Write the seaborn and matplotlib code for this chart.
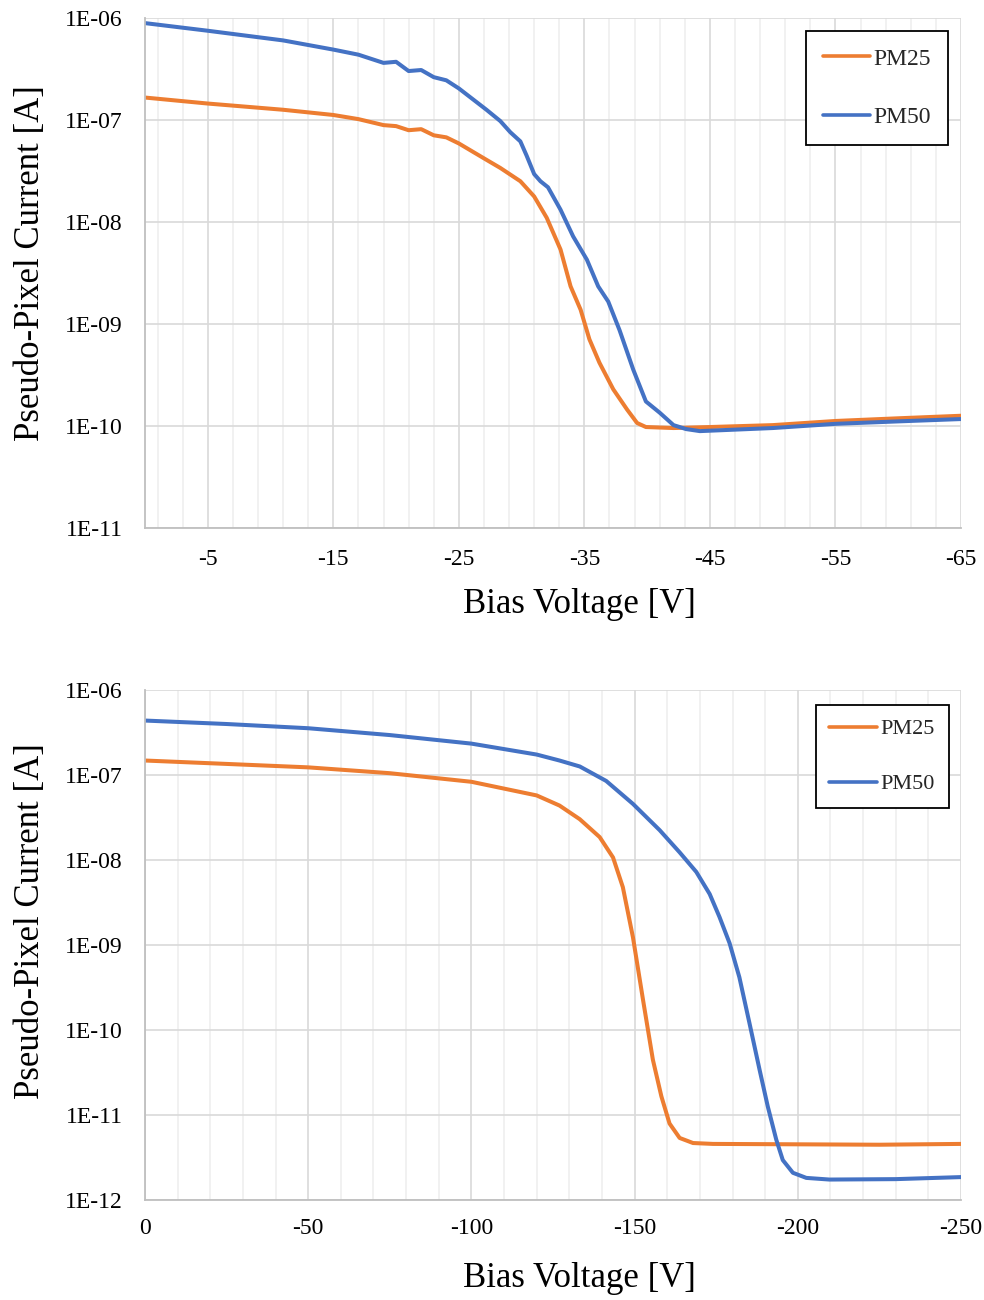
import numpy as np
import pandas as pd
import matplotlib
matplotlib.use("Agg")
import matplotlib.pyplot as plt
import seaborn as sns
from matplotlib.ticker import FixedLocator, FuncFormatter, NullLocator

# ---------------- data ----------------
series_names = ["PM25", "PM50"]
series_colors = ["#ED7D31", "#4472C4"]

# Top panel
top_v_pm25 = [0, -5, -11, -15, -17, -19, -20, -21, -22, -23, -24, -25, -27.2, -28.3,
              -29.9, -31.0, -32.0, -33.1, -33.9, -34.7, -35.4, -36.2, -37.3, -38.4,
              -39.2, -39.9, -42.1, -45, -50, -55, -60, -65]
top_i_pm25 = [1.66e-7, 1.45e-7, 1.26e-7, 1.12e-7, 1.02e-7, 8.91e-8, 8.71e-8, 7.94e-8,
              8.13e-8, 7.08e-8, 6.76e-8, 5.89e-8, 4.07e-8, 3.39e-8, 2.51e-8, 1.78e-8,
              1.10e-8, 5.37e-9, 2.34e-9, 1.38e-9, 7.08e-10, 4.17e-10, 2.29e-10, 1.45e-10,
              1.07e-10, 9.77e-11, 9.55e-11, 9.77e-11, 1.02e-10, 1.12e-10, 1.19e-10, 1.26e-10]

top_v_pm50 = [0, -5, -11, -15, -17, -19, -20, -21, -22, -23, -24, -25, -27.2, -28.3,
              -29.1, -29.9, -30.4, -31.0, -31.5, -32.1, -33.1, -34.1, -35.2, -36.1,
              -36.9, -37.8, -38.9, -39.9, -41.0, -42.1, -43.1, -44.2, -50, -55, -60, -65]
top_i_pm50 = [8.91e-7, 7.50e-7, 6.03e-7, 4.90e-7, 4.37e-7, 3.63e-7, 3.72e-7, 3.02e-7,
              3.09e-7, 2.63e-7, 2.45e-7, 2.04e-7, 1.26e-7, 9.77e-8, 7.59e-8, 6.17e-8,
              4.47e-8, 2.95e-8, 2.51e-8, 2.19e-8, 1.32e-8, 7.24e-9, 4.27e-9, 2.34e-9,
              1.66e-9, 8.71e-10, 3.55e-10, 1.74e-10, 1.35e-10, 1.02e-10, 9.33e-11,
              8.91e-11, 9.55e-11, 1.05e-10, 1.11e-10, 1.17e-10]

# Bottom panel
bot_v_pm25 = [0, -25, -50, -75, -100, -120, -127, -133.2, -139.3, -143.4, -146.4, -149.5,
              -152.6, -155.6, -158.2, -160.7, -163.8, -167.9, -174, -200, -225, -250]
bot_i_pm25 = [1.48e-7, 1.35e-7, 1.23e-7, 1.05e-7, 8.32e-8, 5.75e-8, 4.37e-8, 3.02e-8,
              1.86e-8, 1.07e-8, 4.79e-9, 1.23e-9, 2.24e-10, 4.47e-11, 1.66e-11, 7.94e-12,
              5.37e-12, 4.68e-12, 4.57e-12, 4.52e-12, 4.47e-12, 4.57e-12]

bot_v_pm50 = [0, -25, -50, -75, -100, -120, -127, -133.2, -141.3, -149.5, -157.7, -163.8,
              -168.9, -173, -176, -179.1, -182.1, -185.2, -188.3, -190.8, -193.4, -195.4,
              -198.5, -202.6, -209.7, -230, -250]
bot_i_pm50 = [4.37e-7, 3.98e-7, 3.55e-7, 2.95e-7, 2.34e-7, 1.74e-7, 1.48e-7, 1.26e-7,
              8.51e-8, 4.57e-8, 2.24e-8, 1.23e-8, 7.24e-9, 3.98e-9, 2.14e-9, 1.05e-9,
              4.17e-10, 1.20e-10, 3.39e-11, 1.26e-11, 5.13e-12, 2.95e-12, 2.09e-12,
              1.82e-12, 1.74e-12, 1.76e-12, 1.86e-12]

top_xticks = [-5, -15, -25, -35, -45, -55, -65]
bot_xticks = [0, -50, -100, -150, -200, -250]
x_label = "Bias Voltage [V]"
y_label = "Pseudo-Pixel Current [A]"

# ---------------- style ----------------
sns.set_theme(style="white")
plt.rcParams["font.family"] = ["Liberation Serif", "DejaVu Serif"]
plt.rcParams["axes.unicode_minus"] = False

fig = plt.figure(figsize=(9.84, 13.0), dpi=100)
ax_top = fig.add_axes([145 / 984, 1 - 528 / 1300, 816 / 984, 510 / 1300])
ax_bot = fig.add_axes([145 / 984, 1 - 1200 / 1300, 816 / 984, 510 / 1300])


def make_df(v1, i1, v2, i2):
    return pd.concat([
        pd.DataFrame({"V": v1, "I": i1, "series": series_names[0]}),
        pd.DataFrame({"V": v2, "I": i2, "series": series_names[1]}),
    ], ignore_index=True)


df_top = make_df(top_v_pm25, top_i_pm25, top_v_pm50, top_i_pm50)
df_bot = make_df(bot_v_pm25, bot_i_pm25, bot_v_pm50, bot_i_pm50)

palette = dict(zip(series_names, series_colors))

fmt = FuncFormatter(lambda v, p: f"{v:.0E}")


def style_axes(ax, xlim, ylim, xticks, xminor, xpad, xlabel_y, ylabel_y,
               leg_anchor, leg_fs, labelspacing, borderpad, handlelength):
    ax.set_yscale("log")
    ax.set_xlim(*xlim)
    ax.set_ylim(*ylim)
    ax.xaxis.set_major_locator(FixedLocator(xticks))
    ax.xaxis.set_minor_locator(FixedLocator(xminor))
    ax.yaxis.set_major_locator(FixedLocator([10.0 ** e for e in range(-12, -5)]))
    ax.yaxis.set_minor_locator(NullLocator())
    ax.yaxis.set_major_formatter(fmt)
    ax.xaxis.set_major_formatter(FuncFormatter(lambda v, p: f"{v:g}"))
    ax.set_axisbelow(True)
    ax.grid(True, which="major", axis="both", color="#d9d9d9", linewidth=1.2)
    ax.grid(True, which="minor", axis="x", color="#efefef", linewidth=1.2)
    ax.tick_params(axis="both", which="both", length=0, labelsize=17, colors="black")
    ax.tick_params(axis="x", pad=xpad)
    ax.tick_params(axis="y", pad=16)
    for s in ["top", "right"]:
        ax.spines[s].set_visible(False)
    for s in ["left", "bottom"]:
        ax.spines[s].set_color("#bfbfbf")
        ax.spines[s].set_linewidth(1.3)
    ax.set_xlabel(x_label, fontsize=25, color="black")
    ax.set_ylabel(y_label, fontsize=25, color="black")
    ax.xaxis.set_label_coords(0.532, xlabel_y)
    ax.yaxis.set_label_coords(-0.12, ylabel_y)
    handles, labels = ax.get_legend_handles_labels()
    leg = ax.legend(handles, labels, loc="upper right", bbox_to_anchor=leg_anchor,
                    borderaxespad=0, frameon=True, fancybox=False, framealpha=1,
                    edgecolor="black", fontsize=leg_fs, handlelength=handlelength,
                    handletextpad=0.15, labelspacing=labelspacing, borderpad=borderpad)
    leg.get_frame().set_linewidth(1.3)
    for ln in leg.get_lines():
        ln.set_linewidth(2.6)


sns.lineplot(data=df_top, x="V", y="I", hue="series", palette=palette, sort=False,
             estimator=None, linewidth=2.9, ax=ax_top)
style_axes(ax_top, (0, -65), (1e-11, 1e-6), top_xticks,
           list(np.arange(-1, -66, -2)), 15, -0.118, 0.52, (0.984, 0.9745),
           17, 1.56, 0.72, 2.0)

sns.lineplot(data=df_bot, x="V", y="I", hue="series", palette=palette, sort=False,
             estimator=None, linewidth=2.9, ax=ax_bot)
style_axes(ax_bot, (0, -250), (1e-12, 1e-6), bot_xticks,
           list(np.arange(0, -251, -10)), 13, -0.122, 0.547, (0.985, 0.9706),
           16, 1.55, 0.62, 2.15)

fig.savefig("out.png", dpi=100, facecolor="white")
